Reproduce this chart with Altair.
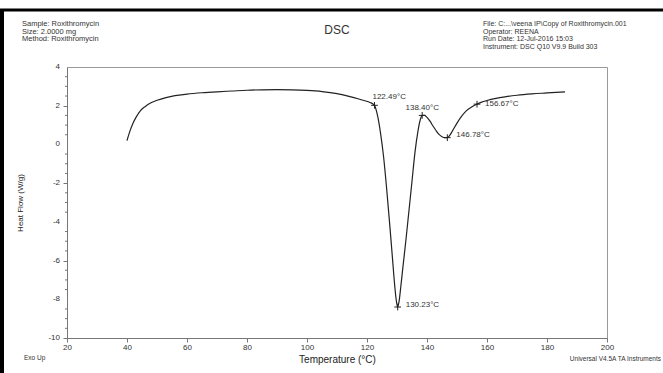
import altair as alt
import pandas as pd

# ---- data ----
temp = [40, 41, 42, 43, 44.5, 46, 48, 50, 53, 56, 60, 65, 70, 75, 80, 85, 90, 95,
        100, 105, 110, 114, 117, 119, 121, 122.49, 123.5, 124.5, 125.5, 126.5,
        127.5, 128.5, 129.3, 129.8, 130.23, 130.7, 131.3, 132, 133, 134, 135, 136,
        137, 137.8, 138.4, 139.2, 140, 141, 142, 143, 144, 145, 146, 146.78, 147.5,
        148.5, 150, 151.5, 153, 155, 156.67, 158, 160, 163, 166, 170, 175, 180, 186]
heat = [0.2, 0.7, 1.1, 1.4, 1.75, 1.95, 2.15, 2.28, 2.42, 2.52, 2.6, 2.67, 2.72, 2.76,
        2.8, 2.82, 2.83, 2.82, 2.79, 2.73, 2.62, 2.48, 2.36, 2.27, 2.17, 2.02, 1.5,
        0.6, -0.6, -2.2, -4.0, -5.9, -7.4, -8.1, -8.4, -8.1, -7.3, -6.3, -4.9, -3.4,
        -1.9, -0.4, 0.7, 1.3, 1.5, 1.5, 1.4, 1.2, 0.95, 0.72, 0.52, 0.4, 0.35, 0.35,
        0.45, 0.7, 1.1, 1.45, 1.72, 1.95, 2.08, 2.17, 2.27, 2.38, 2.46, 2.54, 2.61,
        2.66, 2.72]

peak_temp = [122.49, 130.23, 138.40, 146.78, 156.67]
peak_heat = [2.02, -8.4, 1.5, 0.35, 2.08]
peak_label = ["122.49°C", "130.23°C", "138.40°C", "146.78°C", "156.67°C"]

x_ticks = list(range(20, 201, 5))
y_major = [-10, -8, -6, -4, -2, 0, 2, 4]
y_major_label = ["-10", "-8", "-6", "-4", "-2", "0", "2", "4"]
y_minor = [-9.5, -9, -8.5, -7.5, -7, -6.5, -5.5, -5, -4.5, -3.5, -3, -2.5,
           -1.5, -1, -0.5, 0.5, 1, 1.5, 2.5, 3, 3.5]

left_header = ["Sample: Roxithromycin", "Size:  2.0000 mg", "Method: Roxithromycin"]
right_header = ["File: C:...\\veena IP\\Copy of Roxithromycin.001", "Operator: REENA",
                "Run Date: 12-Jul-2016 15:03", "Instrument: DSC Q10 V9.9 Build 303"]
chart_title = "DSC"
footer_left = "Exo Up"
footer_right = "Universal V4.5A TA Instruments"

FONT = "Liberation Sans"
curve = pd.DataFrame({"T": temp, "H": heat})
peaks = pd.DataFrame({"T": peak_temp, "H": peak_heat, "label": peak_label})
minor = pd.DataFrame({"H": y_minor})
major = pd.DataFrame({"H": y_major, "lab": y_major_label})
one = pd.DataFrame({"a": [0]})

xscale = alt.Scale(domain=[20, 200], nice=False, zero=False)
yscale = alt.Scale(domain=[-10, 4], nice=False, zero=False)

xaxis = alt.Axis(values=x_ticks, title="Temperature (°C)",
                 labelExpr="datum.value % 20 === 0 ? datum.label : ''",
                 tickSize={"expr": "datum.value % 20 === 0 ? 4 : 2"},
                 grid=False, labelFontSize=8, labelPadding=1, titleFontSize=10,
                 titleFontWeight="normal", titlePadding=3, labelColor="#333",
                 titleColor="#222", domainColor="#777", tickColor="#777",
                 labelFont=FONT, titleFont=FONT, labelFlush=False, labelOverlap=False)
yaxis = alt.Axis(values=y_major, title="Heat Flow (W/g)", tickSize=4, labels=False,
                 grid=False, titleFontSize=8,
                 titleFontWeight="normal", titlePadding=38,
                 titleColor="#222", domainColor="#777", tickColor="#777",
                 titleFont=FONT)

line = alt.Chart(curve).mark_line(color="#222", strokeWidth=1.2, interpolate="monotone").encode(
    x=alt.X("T:Q", scale=xscale, axis=xaxis),
    y=alt.Y("H:Q", scale=yscale, axis=yaxis),
)

minor_ticks = alt.Chart(minor).mark_rule(color="#777", strokeWidth=1).encode(
    y=alt.Y("H:Q", scale=yscale, axis=yaxis),
    x=alt.value(-2), x2=alt.value(0),
)

y_labels = alt.Chart(major).mark_text(align="right", baseline="middle", fontSize=8,
                                      font=FONT, color="#333").encode(
    y=alt.Y("H:Q", scale=yscale, axis=yaxis),
    x=alt.value(-7),
    text="lab:N",
)

marks = alt.Chart(peaks).mark_point(shape="M-1,0L1,0M0,-1L0,1", filled=False,
                                    color="#222", size=45, strokeWidth=1, opacity=1).encode(
    x="T:Q", y="H:Q")


def peak_text(i, dx, dy, align):
    return alt.Chart(peaks.iloc[[i]]).mark_text(
        align=align, baseline="middle", dx=dx, dy=dy, fontSize=8, font=FONT, color="#333"
    ).encode(x="T:Q", y="H:Q", text="label:N")


texts = [
    peak_text(0, -2, -8, "left"),
    peak_text(1, 8, -2, "left"),
    peak_text(2, 0, -7, "center"),
    peak_text(3, 9, -3, "left"),
    peak_text(4, 8, 0, "left"),
]


def deco_text(txt, x, y, size, align="left", lh=None):
    kw = dict(align=align, baseline="top", fontSize=size, font=FONT, color="#333")
    if lh:
        kw["lineHeight"] = lh
    return alt.Chart(one).mark_text(**kw).encode(
        x=alt.value(x), y=alt.value(y), text=alt.value(txt))


OX, OY = 67, 67
deco = [
    deco_text(left_header, 22 - OX, 20 - OY, 7.5, lh=7.5),
    deco_text(right_header, 483 - OX, 20 - OY, 7, lh=7.5),
    deco_text(chart_title, 337 - OX, 25 - OY, 12, align="center"),
    deco_text(footer_left, 24 - OX, 355 - OY, 6.5),
    deco_text(footer_right, 661 - OX, 356 - OY, 6.5, align="right"),
]

border_top = alt.Chart(one).mark_rule(color="black", strokeWidth=3).encode(
    x=alt.value(0 - OX), x2=alt.value(663 - OX), y=alt.value(10 - OY))
border_left = alt.Chart(one).mark_rule(color="black", strokeWidth=4).encode(
    x=alt.value(2 - OX), y=alt.value(9 - OY), y2=alt.value(373 - OY))

chart = alt.layer(line, minor_ticks, y_labels, marks, *texts, *deco,
                  border_top, border_left).properties(
    width=540, height=271,
    autosize=alt.AutoSizeParams(type="none"),
    padding={"left": OX, "top": OY, "right": 663 - OX - 540, "bottom": 373 - OY - 271},
    background="white",
).configure_view(stroke="#999", strokeWidth=1).configure_text(font=FONT
).configure_axis(labelOverlap=False)

chart.save("out.html", embed_options={"renderer": "svg", "actions": False})
